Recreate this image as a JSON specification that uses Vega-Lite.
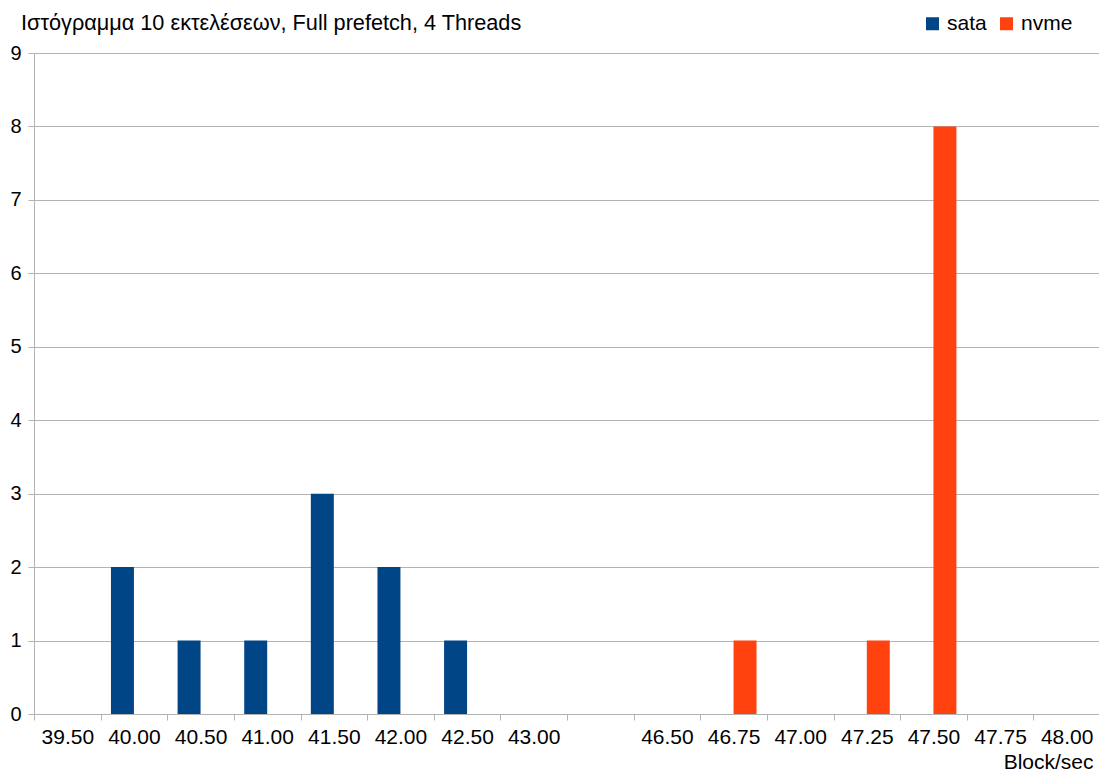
{
  "$schema": "https://vega.github.io/schema/vega-lite/v6.json",
  "autosize": "none",
  "padding": {"left": 34, "top": 53, "right": 0, "bottom": 60},
  "width": 1066,
  "height": 661,
  "background": "white",
  "config": {
    "font": "Liberation Sans",
    "view": {"stroke": null},
    "axis": {"labelFont": "Liberation Sans", "titleFont": "Liberation Sans", "labelColor": "black", "titleColor": "black", "domainColor": "#b3b3b3", "tickColor": "#b3b3b3", "gridColor": "#b3b3b3"}
  },
  "title": {
    "text": "Ιστόγραμμα 10 εκτελέσεων, Full prefetch, 4 Threads",
    "anchor": "start",
    "frame": "group",
    "dx": -13,
    "offset": -39,
    "baseline": "alphabetic",
    "fontSize": 21.7,
    "fontWeight": "normal",
    "font": "Liberation Sans",
    "color": "black"
  },
  "data": {
    "values": [
      {"bin": "40.00", "drive": "sata", "count": 2},
      {"bin": "40.50", "drive": "sata", "count": 1},
      {"bin": "41.00", "drive": "sata", "count": 1},
      {"bin": "41.50", "drive": "sata", "count": 3},
      {"bin": "42.00", "drive": "sata", "count": 2},
      {"bin": "42.50", "drive": "sata", "count": 1},
      {"bin": "46.75", "drive": "nvme", "count": 1},
      {"bin": "47.25", "drive": "nvme", "count": 1},
      {"bin": "47.50", "drive": "nvme", "count": 8}
    ]
  },
  "mark": {"type": "bar"},
  "encoding": {
    "x": {
      "field": "bin",
      "type": "nominal",
      "scale": {
        "domain": ["39.50", "40.00", "40.50", "41.00", "41.50", "42.00", "42.50", "43.00", " ", "46.50", "46.75", "47.00", "47.25", "47.50", "47.75", "48.00"],
        "paddingInner": 0,
        "paddingOuter": 0
      },
      "axis": {
        "title": "Block/sec",
        "titleFontSize": 21,
        "titleFontWeight": "normal",
        "titleAnchor": "end",
        "titleAlign": "right",
        "titleBaseline": "alphabetic",
        "titleX": 1059,
        "titleY": 54,
        "labelAngle": 0,
        "labelFontSize": 21,
        "labelPadding": 6,
        "tickSize": 6,
        "tickBand": "extent",
        "grid": false
      }
    },
    "xOffset": {
      "field": "drive",
      "type": "nominal",
      "scale": {"domain": ["sata", "nvme"], "paddingInner": 0, "paddingOuter": 0.45}
    },
    "y": {
      "field": "count",
      "type": "quantitative",
      "scale": {"domain": [0, 9], "nice": false},
      "axis": {
        "title": null,
        "values": [0, 1, 2, 3, 4, 5, 6, 7, 8, 9],
        "labelFontSize": 20,
        "labelPadding": 7,
        "tickSize": 6,
        "grid": true
      }
    },
    "color": {
      "field": "drive",
      "type": "nominal",
      "scale": {"domain": ["sata", "nvme"], "range": ["#004586", "#ff420e"]},
      "legend": {
        "title": null,
        "orient": "none",
        "direction": "horizontal",
        "legendX": 888,
        "legendY": -40,
        "symbolType": "square",
        "symbolSize": 169,
        "symbolStrokeWidth": 0,
        "labelFontSize": 21,
        "labelFont": "Liberation Sans",
        "labelColor": "black",
        "labelOffset": 4,
        "columnPadding": 9
      }
    }
  }
}
